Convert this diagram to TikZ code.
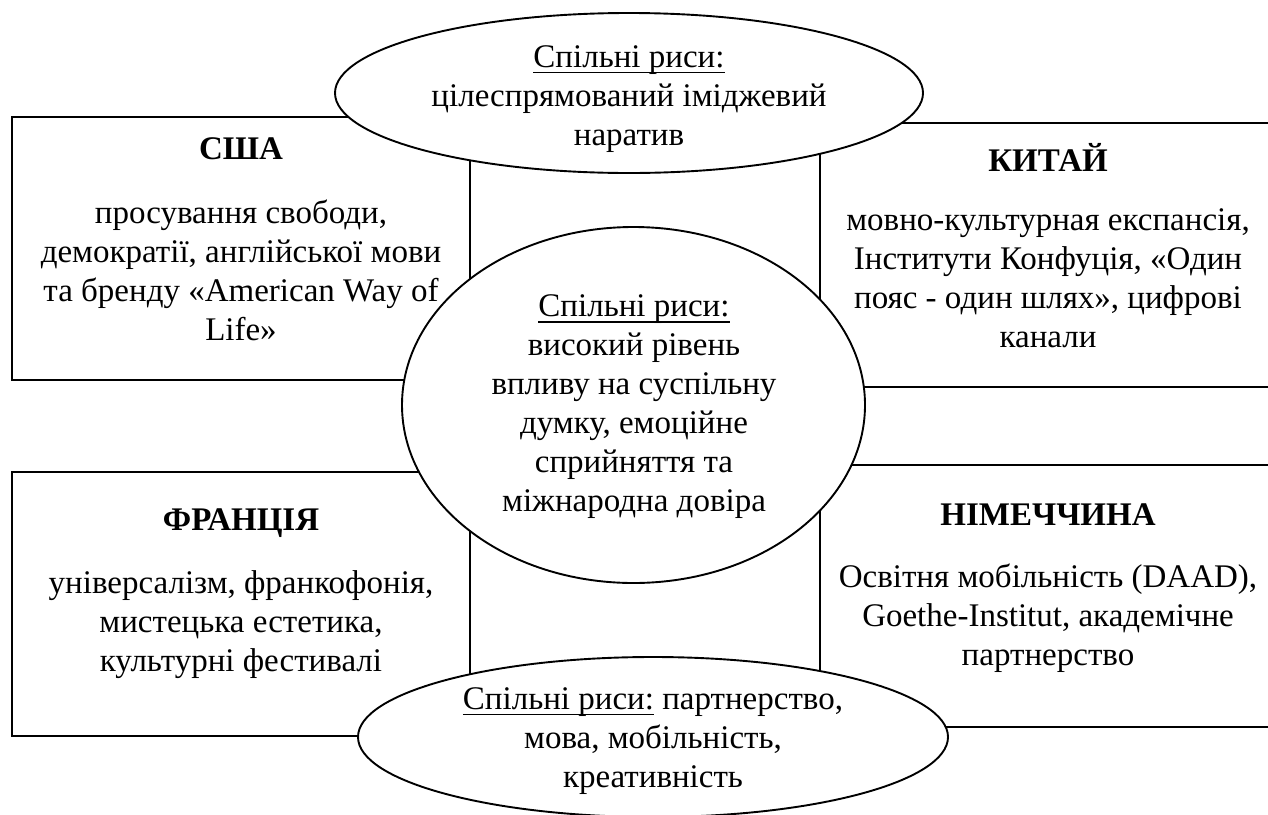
\documentclass[tikz,border=0pt]{standalone}
\usepackage{fontspec}
\setmainfont{Liberation Serif}
\usetikzlibrary{positioning,shapes.geometric}

\newcommand{\bodysize}{\fontsize{16.5}{19.5}\selectfont}
\newcommand{\ulined}[1]{\setbox0=\hbox{#1}\rlap{\rule[-3pt]{\wd0}{0.75pt}}\box0\relax}

\begin{document}
\begin{tikzpicture}[
    x=0.5pt, y=-0.5pt,
    cbox/.style={rectangle, draw, line width=1.15pt, inner sep=0pt},
    bubble/.style={ellipse, draw, line width=0.95pt, fill=white, inner sep=0pt},
    title/.style={font=\bodysize\bfseries, inner sep=0pt},
    txt/.style={font=\bodysize, align=center, inner sep=0pt}
]
\useasboundingbox (0,0) rectangle (1268,814);
\clip (0,0) rectangle (1268,814);

% Boxes
\node[cbox, minimum width=229pt, minimum height=131.5pt] (usa) at (241,248.5) {};
\node[cbox, minimum width=228.5pt, minimum height=132pt] (china) at (1048.5,255) {};
\node[cbox, minimum width=229pt, minimum height=132pt] (france) at (241,604) {};
\node[cbox, minimum width=228.5pt, minimum height=131pt] (germany) at (1048.5,596) {};

% Ellipses
\node[bubble, minimum width=294pt, minimum height=80pt] (top) at (629,93) {};
\node[bubble, minimum width=231.5pt, minimum height=178pt] (mid) at (633.5,405) {};
\node[bubble, minimum width=295pt, minimum height=80pt] (bottom) at (653,737) {};

% Texts
\node[title] (usatitle) at (241,149) {США};
\node[txt] (usatext) at (241,270) {просування свободи,\\демократії, англійської мови\\та бренду «American Way of\\Life»};
\node[title] (chinatitle) at (1048,157) {КИТАЙ};
\node[txt] (chinatext) at (1048,278) {мовно-культурная експансія,\\Інститути Конфуція, «Один\\пояс - один шлях», цифрові\\канали};
\node[title] (francetitle) at (241,523) {ФРАНЦІЯ};
\node[txt] (francetext) at (241,625) {універсалізм, франкофонія,\\мистецька естетика,\\культурні фестивалі};
\node[title] (germanytitle) at (1048,515) {НІМЕЧЧИНА};
\node[txt] (germanytext) at (1048,618) {Освітня мобільність (DAAD),\\Goethe-Institut, академічне\\партнерство};

\node[txt] (toptext) at (629,99) {\ulined{Спільні риси:}\\цілеспрямований іміджевий\\наратив};
\node[txt] (midtext) at (634,407) {\ulined{Спільні риси:}\\високий рівень\\впливу на суспільну\\думку, емоційне\\сприйняття та\\міжнародна довіра};
\node[txt] (bottomtext) at (653,741) {\ulined{Спільні риси:} партнерство,\\мова, мобільність,\\креативність};

\end{tikzpicture}
\end{document}
